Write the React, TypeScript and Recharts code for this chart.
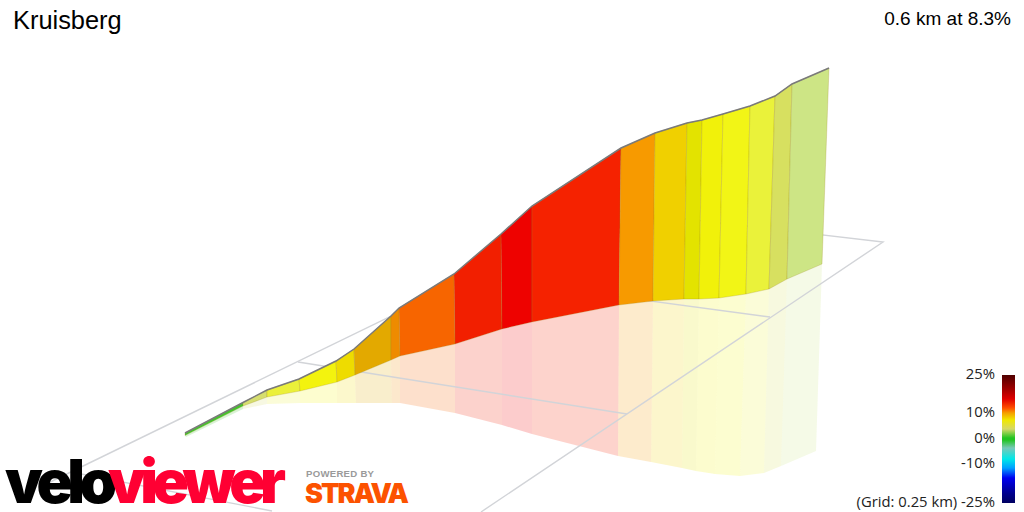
import React from "react";
import { ScatterChart, Scatter, XAxis, YAxis } from "recharts";

const W = 1024;
const H = 512;

// Projected profile, one entry per gradient-segment boundary
const ridgeX = [185, 243, 267, 299, 336, 354, 391, 399, 454, 501, 532, 621, 655, 687, 702, 723, 750, 775, 792, 829];
const ridgeY = [433, 402.5, 390, 379, 361, 349, 316, 308, 274, 234, 206, 148, 133, 123, 120, 114, 106, 96, 84, 68];
const baseX = [185, 243, 267, 300, 337, 355, 391, 400, 455, 502, 532, 619, 653, 684, 699, 719, 746, 769, 787, 822];
const baseY = [435.5, 406, 397, 391, 382, 375, 360, 356, 344, 329, 322, 305, 301, 299, 299, 298, 294, 289, 279, 264];
const floorX = [186, 243, 267, 300, 337, 356, 392, 400, 455, 502, 532, 618, 651, 682, 696, 715, 740, 764, 781, 816];
const floorY = [437, 409, 404, 403, 403, 403, 403, 403, 413, 425, 434, 456, 462, 468, 471, 474, 476, 473, 466, 451];
const segmentColors = [
  "#44c42c", "#d6de6e", "#ebf03a", "#f3f30e", "#eedc00", "#e3a900", "#ee8b00", "#f76500", "#f21f00", "#ee0200",
  "#f52200", "#f79a00", "#f0d000", "#e3e300", "#f1f10a", "#f2f516", "#eaf23a", "#d7e060", "#cde585",
];

// Ground grid polylines
const gridLines: number[][][] = [
  [[40, 487], [609, 210]],
  [[609, 210], [883, 242], [481, 512]],
  [[298, 362], [627, 414]],
  [[472, 277], [770, 317]],
  [[71, 472], [272, 511]],
];

const legendLabels = ["25%", "10%", "0%", "-10%", "(Grid: 0.25 km) -25%"];
const legendLabelY = [379, 417, 443, 468, 507];
const legendStops = [
  ["#4f0000", 0], ["#a00000", 14], ["#e00000", 24], ["#ff5000", 33], ["#f5a000", 38], ["#f0e800", 45], ["#d6d868", 54],
  ["#22c422", 63], ["#22c422", 65], ["#78c8b8", 73], ["#00e8e8", 84], ["#00a0ff", 93], ["#0000f0", 103], ["#000090", 118], ["#000060", 128],
];

const title = "Kruisberg";
const summary = "0.6 km at 8.3%";

const none = () => null;

function poly(key: string, pts: { x: number; y: number }[], lineStyle: any) {
  return <Scatter key={key} data={pts} shape={none as any} line={lineStyle} isAnimationActive={false} />;
}

function quad(i: number, ax: number[], ay: number[], bx: number[], by: number[]) {
  return [
    { x: ax[i], y: ay[i] },
    { x: ax[i + 1], y: ay[i + 1] },
    { x: bx[i + 1], y: by[i + 1] },
    { x: bx[i], y: by[i] },
    { x: ax[i], y: ay[i] },
  ];
}

export default function App() {
  const gradient = `linear-gradient(to bottom, ${legendStops.map(([c, p]) => `${c} ${p}px`).join(", ")})`;
  return (
    <div style={{ position: "absolute", left: 0, top: 0, width: W, height: H, overflow: "hidden", background: "#fff" }}>
      <ScatterChart width={W} height={H} margin={{ top: 0, right: 0, bottom: 0, left: 0 }}>
        <XAxis type="number" dataKey="x" domain={[0, W]} hide />
        <YAxis type="number" dataKey="y" domain={[0, H]} reversed hide />
        {segmentColors.map((c, i) =>
          poly(`floor${i}`, quad(i, baseX, baseY, floorX, floorY), {
            fill: c, fillOpacity: 0.2, stroke: "none",
          })
        )}
        {gridLines.map((l, i) =>
          poly(`grid${i}`, l.map(([x, y]) => ({ x, y })), { stroke: "#d2d4d8", strokeWidth: 1.4, fill: "none" })
        )}
        {segmentColors.map((c, i) =>
          poly(`wall${i}`, quad(i, ridgeX, ridgeY, baseX, baseY), {
            fill: c, stroke: "#a08a20", strokeOpacity: 0.25, strokeWidth: 1,
          })
        )}
        {poly("ridge", ridgeX.map((x, i) => ({ x, y: ridgeY[i] })), { stroke: "#7a7a7a", strokeWidth: 1.5, fill: "none" })}
      </ScatterChart>

      <svg width={W} height={H} style={{ position: "absolute", left: 0, top: 0 }}>
        <text x={13} y={29} fontFamily="Liberation Sans" fontSize={25.4} fill="#000">{title}</text>
        <text x={1011} y={25} textAnchor="end" fontFamily="Liberation Sans" fontSize={19} fill="#000">{summary}</text>
        {legendLabels.map((t, i) => (
          <text key={t} x={995} y={legendLabelY[i]} textAnchor="end" fontFamily="Open Sans" fontSize={14.8} fill="#222">{t}</text>
        ))}
        <text y={503} fontFamily="Inter" fontWeight={900} fontSize={60}>
          <tspan x={5} fill="#000" textLength={112} lengthAdjust="spacing">velo</tspan>
          <tspan x={108} fill="#ff0033" textLength={178} lengthAdjust="spacing">viewer</tspan>
        </text>
        <text x={306} y={477} fontFamily="Liberation Sans" fontWeight={700} fontSize={9.6} fill="#9a9a9a" textLength={68} lengthAdjust="spacing">POWERED BY</text>
        <text x={305} y={503} fontFamily="Inter" fontWeight={900} fontSize={27} fill="#fc5200" textLength={104} lengthAdjust="spacing">STRAVA</text>
      </svg>

      <div style={{ position: "absolute", left: 1002, top: 375, width: 13, height: 128, background: gradient }} />
    </div>
  );
}
